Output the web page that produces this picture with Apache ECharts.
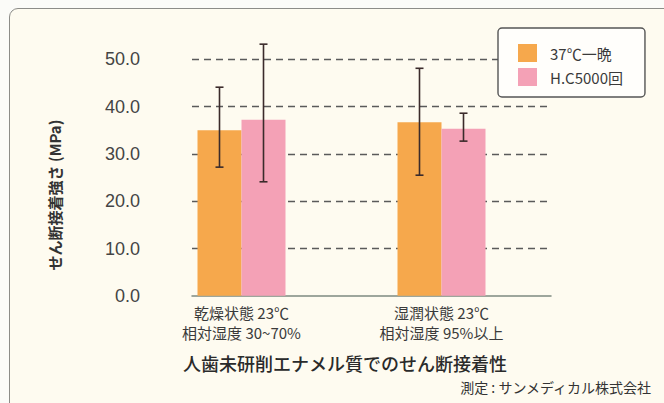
<!DOCTYPE html>
<html>
<head>
<meta charset="utf-8">
<script src="https://cdn.jsdelivr.net/npm/echarts@6/dist/echarts.min.js"></script>
<style>
  html, body { margin: 0; padding: 0; background: #fbfbf8; }
  #panel { position: absolute; left: 9px; top: 8px; width: 720px; height: 460px;
           border: 1.5px solid #8c8c88; border-radius: 9px; background: #fefbf0; }
  #chart { position: absolute; left: 0; top: 0; width: 664px; height: 403px; }
</style>
</head>
<body>
<div id="panel"></div>
<div id="chart"></div>
<script>
// ---- data ----
const categories = ['乾燥状態 23℃\n相対湿度 30~70%', '湿潤状態 23℃\n相対湿度 95%以上'];
const seriesNames = ['37℃一晩', 'H.C5000回'];
const overnight = [35.0, 36.7];
const hc5000 = [37.2, 35.3];
const overnightErr = [[27.2, 44.1], [25.5, 48.1]];
const hc5000Err = [[24.1, 53.2], [32.7, 38.6]];
const yMin = 0, yMax = 55, yStep = 10;
const yAxisName = 'せん断接着強さ (MPa)';
const titleText = '人歯未研削エナメル質でのせん断接着性';
const sourceText = '測定 : サンメディカル株式会社';

const colors = ['#f6a84c', '#f4a1b6'];
const BAR_W = 44;
const CJK = '"Noto Sans CJK JP", "Noto Sans", sans-serif';

function errSeries(errs, offset) {
  return {
    type: 'custom',
    xAxisIndex: 1, yAxisIndex: 1,
    z: 10,
    data: errs.map((e, i) => [i, e[0], e[1]]),
    encode: { x: 0, y: [1, 2] },
    renderItem: function (params, api) {
      const lo = api.coord([api.value(0), api.value(1)]);
      const hi = api.coord([api.value(0), api.value(2)]);
      const x = lo[0] + offset;
      const cap = 4;
      const st = { stroke: '#3b2b2b', lineWidth: 1.6 };
      return {
        type: 'group',
        children: [
          { type: 'line', shape: { x1: x, y1: lo[1], x2: x, y2: hi[1] }, style: st },
          { type: 'line', shape: { x1: x - cap, y1: lo[1], x2: x + cap, y2: lo[1] }, style: st },
          { type: 'line', shape: { x1: x - cap, y1: hi[1], x2: x + cap, y2: hi[1] }, style: st }
        ]
      };
    }
  };
}

const chart = echarts.init(document.getElementById('chart'), null, { renderer: 'svg' });
chart.setOption({
  animation: false,
  backgroundColor: 'transparent',
  textStyle: { fontFamily: CJK },
  grid: [
    { left: 192, right: 113, top: 295.8 - 55 * 4.73, bottom: 403 - 295.8 },
    { left: 141.5, right: 122.5, top: 295.8 - 55 * 4.73, bottom: 403 - 295.8 }
  ],
  xAxis: [
    { type: 'value', gridIndex: 0, min: 0, max: 1,
      axisLine: { show: true, onZero: true, lineStyle: { color: '#7d8a80', width: 1.5 } },
      axisTick: { show: false }, axisLabel: { show: false }, splitLine: { show: false } },
    { type: 'category', gridIndex: 1, data: categories,
      axisLine: { show: false }, axisTick: { show: false }, splitLine: { show: false },
      axisLabel: { margin: 7, fontSize: 15, lineHeight: 20, color: '#3a3a3a', fontFamily: CJK } }
  ],
  yAxis: [
    { type: 'value', gridIndex: 0, min: yMin, max: yMax, interval: yStep,
      axisLine: { show: false }, axisTick: { show: false },
      axisLabel: { margin: 52, fontSize: 18, color: '#444',
        fontFamily: 'Liberation Sans, Arial, sans-serif',
        showMaxLabel: false,
        formatter: v => (v % yStep === 0 ? v.toFixed(1) : '') },
      splitLine: { show: true, showMinLine: false, showMaxLine: false,
        lineStyle: { type: [7, 5], color: '#5a5a5a', width: 1.3 } } },
    { type: 'value', gridIndex: 1, min: yMin, max: yMax, interval: yStep, show: false,
      splitLine: { show: false } }
  ],
  legend: {
    data: seriesNames,
    left: 498, top: 28,
    orient: 'vertical',
    itemWidth: 19, itemHeight: 18, itemGap: 6,
    icon: 'rect',
    padding: [16, 22, 11, 20],
    backgroundColor: '#fffefb',
    borderColor: '#555',
    borderWidth: 1.4,
    borderRadius: 4,
    textStyle: { fontSize: 15, color: '#3a3a3a', padding: [0, 0, 0, 8], fontFamily: CJK }
  },
  graphic: [
    { type: 'text', x: 54, y: 195, rotation: Math.PI / 2,
      style: { text: yAxisName, fontSize: 15, fontWeight: 'bold', fill: '#333',
        fontFamily: CJK, align: 'center', verticalAlign: 'middle' } },
    { type: 'text', x: 345, y: 363,
      style: { text: titleText, fontSize: 18, fontWeight: 500, fill: '#2a2a2a',
        fontFamily: CJK, align: 'center', verticalAlign: 'middle' } },
    { type: 'text', x: 651, y: 387,
      style: { text: sourceText, fontSize: 14, fill: '#333',
        fontFamily: CJK, align: 'right', verticalAlign: 'middle' } }
  ],
  series: [
    { name: seriesNames[0], type: 'bar', xAxisIndex: 1, yAxisIndex: 1, data: overnight,
      barWidth: BAR_W, barGap: '0%', itemStyle: { color: colors[0] } },
    { name: seriesNames[1], type: 'bar', xAxisIndex: 1, yAxisIndex: 1, data: hc5000,
      barWidth: BAR_W, barGap: '0%', itemStyle: { color: colors[1] } },
    errSeries(overnightErr, -BAR_W / 2),
    errSeries(hc5000Err, BAR_W / 2)
  ]
});
</script>
</body>
</html>
